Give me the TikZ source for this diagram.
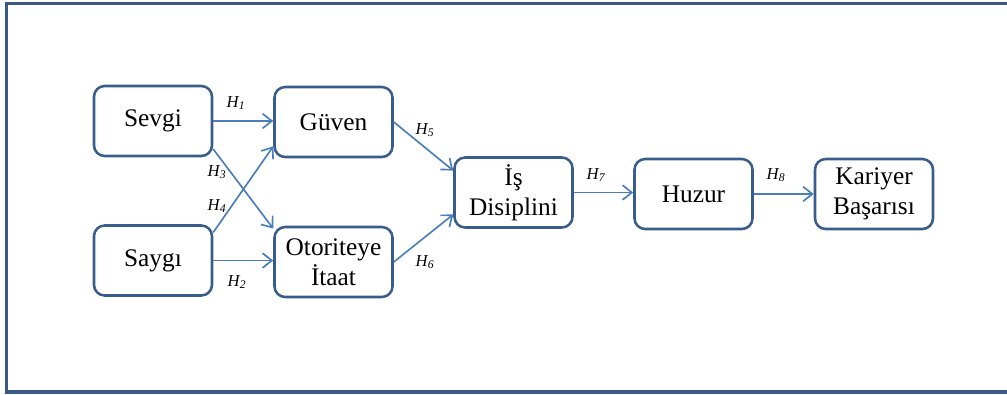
\documentclass[tikz,border=0pt]{standalone}
\usepackage{fontspec}
\setmainfont{Liberation Serif}
\usetikzlibrary{arrows.meta}
\definecolor{boxblue}{RGB}{56,93,138}
\definecolor{arrowblue}{RGB}{74,126,187}
\definecolor{frameblue}{RGB}{58,90,132}
\tikzset{
  konstrukt/.style={draw=boxblue, line width=1.9pt, rounded corners=8pt,
    minimum width=88.5pt, minimum height=52.5pt, inner sep=1pt, align=center,
    font=\fontsize{19}{22.5}\selectfont},
  yol/.style={draw=arrowblue, line width=1.25pt, -{Straight Barb[length=7pt,width=11pt]}},
  hip/.style={inner sep=1pt, font=\fontsize{12.5}{14}\selectfont\itshape}
}
\newcommand{\hyp}[1]{H\textsubscript{#1}}
\begin{document}
\begin{tikzpicture}[x=0.75pt,y=-0.75pt]
  \useasboundingbox (0,0) rectangle (1007,394);
  \clip (0,0) rectangle (1007,394);
  % outer frame
  \draw[frameblue, line width=2.3pt] (6.5,3.5) rectangle (1020,392);
  % constructs
  \node[konstrukt] (sevgi) at (153,121) {Sevgi};
  \node[konstrukt] (saygi) at (153,260.5) {Saygı};
  \node[konstrukt] (guven) at (333.5,122) {Güven};
  \node[konstrukt] (itaat) at (333.5,262) {Otoriteye\\İtaat};
  \node[konstrukt] (disiplin) at (513.5,192.5) {İş\\Disiplini};
  \node[konstrukt] (huzur) at (693.5,194) {Huzur};
  \node[konstrukt] (kariyer) at (874,194) {Kariyer\\Başarısı};
  % hypotheses
  \draw[yol] (sevgi.east) -- (sevgi.east -| guven.west);
  \draw[yol] (saygi.east) -- (saygi.east -| itaat.west);
  \draw[yol] (sevgi.-25) -- (itaat.151);
  \draw[yol] (saygi.25) -- (guven.202);
  \draw[yol] (guven.east) -- (disiplin.160);
  \draw[yol] (itaat.east) -- (disiplin.200);
  \draw[yol] (disiplin.east) -- (disiplin.east -| huzur.west);
  \draw[yol] (huzur.east) -- (huzur.east -| kariyer.west);
  % labels
  \node[hip] (h1) at (236,103) {\hyp{1}};
  \node[hip] (h2) at (237,282) {\hyp{2}};
  \node[hip] (h3) at (217,172) {\hyp{3}};
  \node[hip] (h4) at (217,206) {\hyp{4}};
  \node[hip] (h5) at (425,130) {\hyp{5}};
  \node[hip] (h6) at (425,262) {\hyp{6}};
  \node[hip] (h7) at (596,175) {\hyp{7}};
  \node[hip] (h8) at (776,175) {\hyp{8}};
\end{tikzpicture}
\end{document}
